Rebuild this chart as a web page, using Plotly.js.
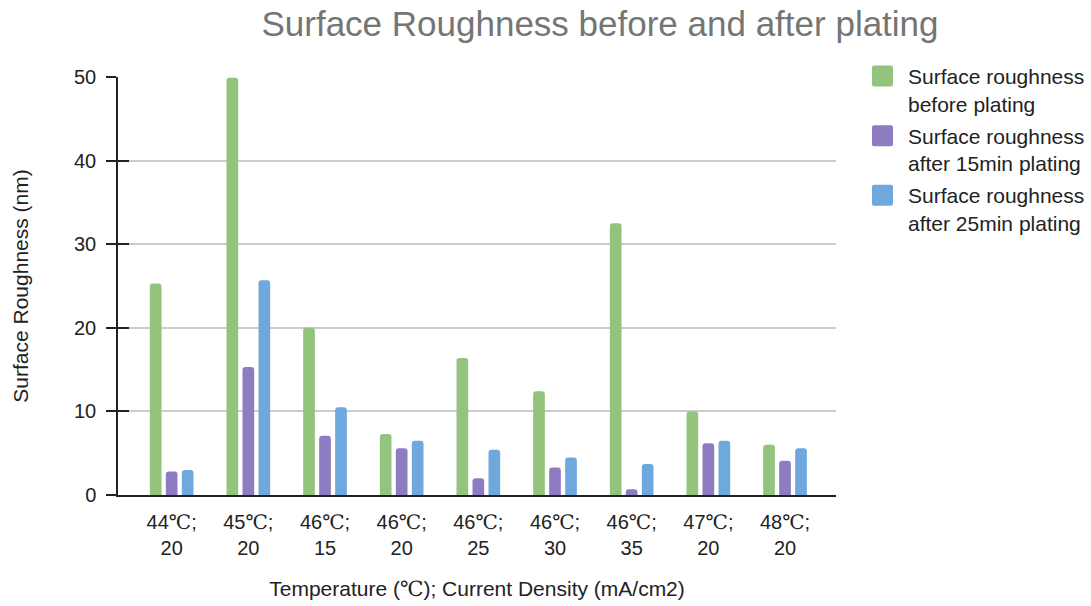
<!DOCTYPE html>
<html>
<head>
<meta charset="utf-8">
<script src="https://cdn.plot.ly/plotly-3.0.1.min.js"></script>
<style>
  html, body { margin: 0; padding: 0; background: #fff; }
  #chart { width: 1091px; height: 606px; }
</style>
</head>
<body>
<div id="chart"></div>
<script>
// Plating conditions: bath temperature and current density
const categories = [
  "44℃;<br>20", "45℃;<br>20", "46℃;<br>15", "46℃;<br>20", "46℃;<br>25",
  "46℃;<br>30", "46℃;<br>35", "47℃;<br>20", "48℃;<br>20"
];

// Surface roughness (nm) for each condition
const beforePlating = [25.3, 49.9, 20.0, 7.3, 16.4, 12.4, 32.5, 10.0, 6.0];
const after15min    = [2.8, 15.3, 7.1, 5.6, 2.0, 3.3, 0.7, 6.2, 4.1];
const after25min    = [3.0, 25.7, 10.5, 6.5, 5.4, 4.5, 3.7, 6.5, 5.6];

const seriesNames = [
  "Surface roughness<br>before plating",
  "Surface roughness<br>after 15min plating",
  "Surface roughness<br>after 25min plating"
];
const seriesColors = ["#93c47d", "#8e7cc3", "#6fa8dc"];

const font = "Arial, 'Liberation Sans', sans-serif";
const ink = "#222222";

// the degree-Celsius sign is set in a serif face
const withSerifDegree = s => s.replace(/℃/g, '<span style="font-family:\'DejaVu Serif\'">℃</span>');
const tickText = categories.map(withSerifDegree);

const traces = [beforePlating, after15min, after25min].map((vals, i) => ({
  type: "bar",
  x: categories,
  y: vals,
  name: seriesNames[i],
  legendgroup: "g" + i,
  marker: { color: seriesColors[i], cornerradius: 3 },
  hoverinfo: "y+name"
}));

const layout = {
  width: 1091,
  height: 606,
  paper_bgcolor: "#ffffff",
  plot_bgcolor: "#ffffff",
  margin: { l: 118, r: 255, t: 77, b: 111 },
  font: { family: font, size: 20, color: ink },
  title: {
    text: "Surface Roughness before and after plating",
    font: { family: font, size: 35, color: "#757575" },
    xref: "container", x: 600 / 1091, xanchor: "center",
    yref: "container", y: 1 - 24 / 606, yanchor: "middle"
  },
  barmode: "group",
  bargap: 0.374,
  bargroupgap: 0.27,
  xaxis: {
    type: "category",
    range: [-0.7, 8.665],
    tickvals: categories,
    ticktext: tickText,
    showgrid: false,
    showline: true,
    linecolor: ink,
    linewidth: 1.5,
    ticks: "",
    ticklabelstandoff: 8,
    tickfont: { family: font, size: 20, color: ink },
    title: {
      text: withSerifDegree("Temperature (℃); Current Density (mA/cm2)"),
      font: { family: font, size: 21, color: ink },
      standoff: 24
    }
  },
  yaxis: {
    range: [0, 50],
    tickvals: [0, 10, 20, 30, 40, 50],
    showgrid: true,
    gridcolor: "#cccccc",
    gridwidth: 1.5,
    zeroline: false,
    showline: true,
    linecolor: ink,
    linewidth: 1.5,
    ticks: "outside",
    ticklen: 10,
    tickwidth: 1.5,
    tickcolor: ink,
    ticklabelstandoff: 6,
    tickfont: { family: font, size: 20, color: ink },
    title: {
      text: "Surface Roughness (nm)",
      font: { family: font, size: 21, color: ink },
      standoff: 40
    }
  },
  // inner half of the crossing tick marks on the value axis
  yaxis2: {
    overlaying: "y",
    anchor: "x",
    side: "left",
    range: [0, 50],
    tickvals: [0, 10, 20, 30, 40, 50],
    showgrid: false,
    zeroline: false,
    showline: false,
    ticks: "inside",
    ticklen: 11,
    tickwidth: 1.5,
    tickcolor: ink,
    showticklabels: false
  },
  legend: {
    x: 857 / 1091, xref: "container",
    y: 1.0504, yref: "paper",
    xanchor: "left", yanchor: "top",
    valign: "top",
    font: { family: font, size: 21, color: ink },
    tracegroupgap: 2,
    itemwidth: 41,
    bgcolor: "rgba(0,0,0,0)"
  },
  showlegend: true
};

// invisible trace so the overlay axis is laid out
traces.push({
  type: "scatter", x: [categories[0]], y: [0], yaxis: "y2",
  mode: "markers", marker: { opacity: 0 }, showlegend: false, hoverinfo: "skip"
});

// 21px legend swatch with slightly rounded corners
const SWATCH = "M-8.5,-10.5H8.5A2,2 0 0 1 10.5,-8.5V8.5A2,2 0 0 1 8.5,10.5" +
               "H-8.5A2,2 0 0 1 -10.5,8.5V-8.5A2,2 0 0 1 -8.5,-10.5Z";

Plotly.newPlot("chart", traces, layout, { displayModeBar: false, responsive: false })
  .then(gd => {
    gd.querySelectorAll(".legend .legendpoints path").forEach(p => {
      p.setAttribute("d", SWATCH);
    });
  });
</script>
</body>
</html>
